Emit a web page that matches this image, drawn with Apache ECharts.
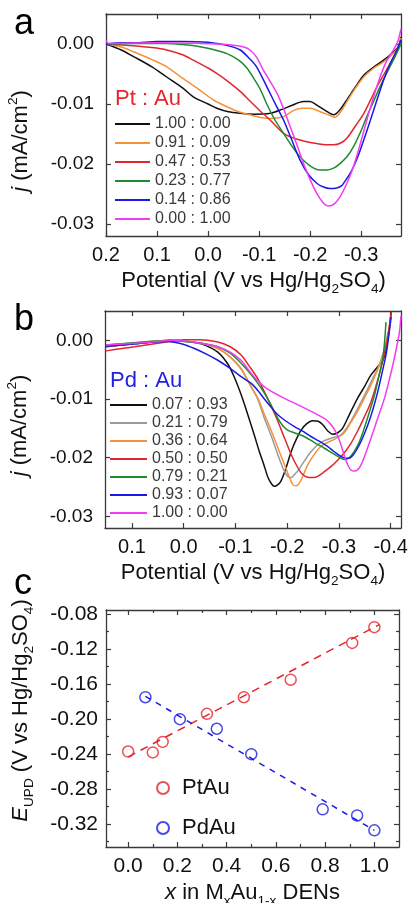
<!DOCTYPE html>
<html>
<head>
<meta charset="utf-8">
<script src="https://cdn.jsdelivr.net/npm/echarts@6/dist/echarts.min.js"></script>
<style>
html, body { margin: 0; padding: 0; background: #fff; }
#main { width: 410px; height: 903px; }
</style>
</head>
<body>
<div id="main"></div>
<script>
// panel a : Pt:Au, potential (V) vs j (mA/cm2)
const a100 = [[0.20,0.0000],[0.17,-0.0010],[0.146,-0.0021],[0.11,-0.0038],[0.081,-0.0055],[0.05,-0.0073],[0.029,-0.0088],[0.00,-0.0100],[-0.017,-0.0107],[-0.04,-0.0113],[-0.063,-0.01155],[-0.09,-0.0117],[-0.122,-0.01155],[-0.145,-0.0109],[-0.165,-0.0102],[-0.187,-0.0096],[-0.20,-0.0096],[-0.213,-0.0102],[-0.23,-0.0111],[-0.246,-0.0118],[-0.258,-0.0110],[-0.272,-0.0093],[-0.29,-0.0070],[-0.305,-0.0052],[-0.325,-0.0038],[-0.344,-0.0027],[-0.36,-0.0016],[-0.373,-0.0004],[-0.378,0.0012]];
const a091 = [[0.20,0.0000],[0.17,-0.0005],[0.146,-0.0013],[0.11,-0.0026],[0.081,-0.0038],[0.05,-0.0057],[0.016,-0.0077],[-0.01,-0.0093],[-0.037,-0.01045],[-0.06,-0.0113],[-0.082,-0.0118],[-0.10,-0.0122],[-0.122,-0.0124],[-0.148,-0.0121],[-0.167,-0.0111],[-0.185,-0.0107],[-0.20,-0.0107],[-0.22,-0.0113],[-0.235,-0.0118],[-0.248,-0.0122],[-0.26,-0.0113],[-0.272,-0.0096],[-0.29,-0.0072],[-0.305,-0.0055],[-0.325,-0.0040],[-0.344,-0.0030],[-0.36,-0.0018],[-0.373,-0.0005],[-0.378,0.0010]];
const a047 = [[0.20,0.0000],[0.146,-0.0003],[0.11,-0.0006],[0.081,-0.0010],[0.05,-0.0018],[0.029,-0.0027],[0.00,-0.0040],[-0.017,-0.0049],[-0.04,-0.0063],[-0.063,-0.0079],[-0.082,-0.0095],[-0.10,-0.0110],[-0.122,-0.0127],[-0.148,-0.0149],[-0.165,-0.0156],[-0.18,-0.0160],[-0.20,-0.0164],[-0.213,-0.0166],[-0.23,-0.0168],[-0.246,-0.0168],[-0.26,-0.0165],[-0.272,-0.0157],[-0.29,-0.0135],[-0.305,-0.0116],[-0.318,-0.0094],[-0.331,-0.0071],[-0.345,-0.0050],[-0.357,-0.0032],[-0.368,-0.0015],[-0.378,0.0002]];
const a023 = [[0.20,0.0000],[0.15,0.0001],[0.081,0.0001],[0.05,-0.0001],[0.016,-0.00045],[-0.01,-0.0009],[-0.037,-0.0016],[-0.06,-0.0027],[-0.076,-0.0040],[-0.09,-0.0058],[-0.102,-0.0075],[-0.115,-0.0100],[-0.13,-0.0125],[-0.148,-0.0149],[-0.165,-0.0171],[-0.18,-0.0188],[-0.195,-0.0200],[-0.213,-0.0209],[-0.233,-0.0210],[-0.248,-0.0206],[-0.259,-0.0199],[-0.272,-0.0188],[-0.285,-0.0171],[-0.298,-0.0148],[-0.311,-0.0121],[-0.324,-0.0096],[-0.337,-0.0071],[-0.35,-0.0048],[-0.363,-0.0027],[-0.378,0.0000]];
const a014 = [[0.20,0.0000],[0.17,0.0002],[0.146,0.0002],[0.10,0.0004],[0.048,0.0004],[0.00,0.0003],[-0.017,0.0001],[-0.04,-0.0003],[-0.063,-0.0010],[-0.082,-0.0025],[-0.095,-0.0038],[-0.115,-0.0071],[-0.13,-0.0097],[-0.148,-0.0127],[-0.165,-0.0162],[-0.18,-0.0193],[-0.197,-0.0218],[-0.213,-0.0232],[-0.225,-0.0238],[-0.239,-0.0241],[-0.252,-0.0240],[-0.262,-0.0236],[-0.268,-0.0229],[-0.28,-0.0213],[-0.291,-0.0193],[-0.305,-0.0160],[-0.318,-0.0127],[-0.331,-0.0093],[-0.344,-0.0060],[-0.357,-0.0032],[-0.37,-0.0010],[-0.378,0.0007]];
const a000 = [[0.20,0.0006],[0.195,0.0001],[0.10,0.0002],[0.016,0.0001],[-0.02,0.0000],[-0.05,-0.0002],[-0.07,-0.0005],[-0.082,-0.0010],[-0.095,-0.0022],[-0.108,-0.0043],[-0.12,-0.0060],[-0.135,-0.0082],[-0.148,-0.0108],[-0.161,-0.0138],[-0.174,-0.0168],[-0.187,-0.0199],[-0.20,-0.0226],[-0.213,-0.0249],[-0.225,-0.0264],[-0.236,-0.0270],[-0.248,-0.0266],[-0.259,-0.0254],[-0.272,-0.0232],[-0.285,-0.0204],[-0.298,-0.0167],[-0.311,-0.0127],[-0.324,-0.0089],[-0.337,-0.0055],[-0.35,-0.0028],[-0.363,-0.0010],[-0.372,0.0005],[-0.378,0.0025]];
const aNames = ['1.00 : 0.00', '0.91 : 0.09', '0.47 : 0.53', '0.23 : 0.77', '0.14 : 0.86', '0.00 : 1.00'];
const aColors = ['#111111', '#f4923a', '#e3262d', '#1f8a2e', '#1a1ae6', '#f23cf2'];

// panel b : Pd:Au
const b007 = [[0.15,-0.0011],[0.095,-0.0006],[0.05,-0.0002],[0.024,0.0000],[0.0,-0.0001],[-0.034,-0.0006],[-0.066,-0.0020],[-0.085,-0.0040],[-0.098,-0.0063],[-0.112,-0.0095],[-0.124,-0.0127],[-0.136,-0.0160],[-0.146,-0.0189],[-0.155,-0.0212],[-0.163,-0.0234],[-0.17,-0.0245],[-0.175,-0.0249],[-0.181,-0.0247],[-0.188,-0.0240],[-0.198,-0.0217],[-0.208,-0.0189],[-0.218,-0.0168],[-0.227,-0.0153],[-0.238,-0.0142],[-0.249,-0.0137],[-0.26,-0.0138],[-0.269,-0.0144],[-0.279,-0.0155],[-0.288,-0.0160],[-0.297,-0.0158],[-0.307,-0.0150],[-0.32,-0.0127],[-0.336,-0.0099],[-0.35,-0.0078],[-0.362,-0.0059],[-0.375,-0.0045],[-0.385,-0.0034],[-0.391,-0.0015],[-0.396,0.0010],[-0.401,0.0048]];
const b021 = [[0.15,-0.0008],[0.095,-0.0004],[0.05,-0.0001],[0.024,0.0000],[0.0,-0.0001],[-0.034,-0.0005],[-0.066,-0.0014],[-0.09,-0.0028],[-0.111,-0.0048],[-0.13,-0.0079],[-0.143,-0.0100],[-0.156,-0.0133],[-0.17,-0.0165],[-0.182,-0.0195],[-0.192,-0.0218],[-0.201,-0.0232],[-0.208,-0.0234],[-0.214,-0.0229],[-0.223,-0.0220],[-0.233,-0.0206],[-0.246,-0.0190],[-0.259,-0.0178],[-0.272,-0.0171],[-0.285,-0.0167],[-0.304,-0.0161],[-0.317,-0.0147],[-0.33,-0.0127],[-0.343,-0.0105],[-0.356,-0.0082],[-0.367,-0.0062],[-0.378,-0.0042],[-0.386,-0.0020],[-0.391,-0.0003],[-0.395,0.0015]];
const b036 = [[0.15,-0.0010],[0.095,-0.0005],[0.05,-0.0001],[0.024,0.0000],[0.0,-0.0001],[-0.04,-0.0006],[-0.066,-0.0014],[-0.085,-0.0025],[-0.11,-0.0048],[-0.13,-0.0078],[-0.143,-0.0098],[-0.155,-0.0124],[-0.165,-0.0145],[-0.175,-0.0167],[-0.185,-0.0190],[-0.195,-0.0212],[-0.204,-0.0233],[-0.211,-0.0246],[-0.217,-0.0248],[-0.224,-0.0243],[-0.232,-0.0228],[-0.24,-0.0212],[-0.252,-0.0195],[-0.265,-0.0181],[-0.278,-0.0174],[-0.291,-0.0169],[-0.31,-0.0158],[-0.323,-0.0140],[-0.336,-0.0121],[-0.349,-0.0099],[-0.362,-0.0076],[-0.372,-0.0056],[-0.381,-0.0037],[-0.388,-0.0018],[-0.394,0.0003],[-0.397,0.0020]];
const b050 = [[0.15,-0.0018],[0.12,-0.0014],[0.095,-0.0011],[0.05,-0.0005],[0.02,-0.0001],[-0.002,0.0001],[-0.03,0.0001],[-0.066,-0.0003],[-0.09,-0.0011],[-0.111,-0.0025],[-0.13,-0.0048],[-0.143,-0.0065],[-0.156,-0.0088],[-0.169,-0.0112],[-0.182,-0.0138],[-0.195,-0.0167],[-0.208,-0.0195],[-0.218,-0.0213],[-0.227,-0.0226],[-0.235,-0.0232],[-0.243,-0.0234],[-0.251,-0.0234],[-0.259,-0.0232],[-0.272,-0.0224],[-0.285,-0.0215],[-0.298,-0.0204],[-0.31,-0.0192],[-0.323,-0.0176],[-0.336,-0.0155],[-0.349,-0.0131],[-0.362,-0.0105],[-0.372,-0.0077],[-0.381,-0.0048],[-0.388,-0.0022],[-0.394,0.0003],[-0.401,0.0048]];
const b079 = [[0.15,-0.0008],[0.095,-0.0004],[0.05,-0.0001],[0.024,0.0000],[0.0,-0.0002],[-0.034,-0.0005],[-0.066,-0.0011],[-0.09,-0.0022],[-0.111,-0.0039],[-0.13,-0.0058],[-0.143,-0.0073],[-0.156,-0.0090],[-0.17,-0.0112],[-0.182,-0.0133],[-0.192,-0.0146],[-0.201,-0.0153],[-0.215,-0.0158],[-0.233,-0.0164],[-0.252,-0.0174],[-0.272,-0.0184],[-0.285,-0.0191],[-0.298,-0.0198],[-0.31,-0.0203],[-0.32,-0.0200],[-0.33,-0.0189],[-0.34,-0.0172],[-0.349,-0.0150],[-0.359,-0.0122],[-0.369,-0.0093],[-0.377,-0.0062],[-0.385,-0.0031],[-0.388,-0.0005],[-0.391,0.0031]];
const b093 = [[0.15,-0.0010],[0.12,-0.0008],[0.095,-0.0006],[0.06,-0.0003],[0.03,-0.0002],[0.0,-0.0007],[-0.021,-0.0014],[-0.045,-0.0024],[-0.066,-0.0034],[-0.09,-0.0048],[-0.111,-0.0062],[-0.13,-0.0073],[-0.143,-0.0085],[-0.156,-0.0100],[-0.168,-0.0113],[-0.182,-0.0127],[-0.198,-0.0138],[-0.214,-0.0147],[-0.23,-0.0155],[-0.246,-0.0164],[-0.262,-0.0172],[-0.278,-0.0181],[-0.291,-0.0190],[-0.304,-0.0198],[-0.313,-0.0201],[-0.32,-0.0201],[-0.328,-0.0195],[-0.336,-0.0184],[-0.346,-0.0166],[-0.356,-0.0144],[-0.366,-0.0117],[-0.375,-0.0088],[-0.383,-0.0057],[-0.391,-0.0025],[-0.396,0.0005],[-0.401,0.0040]];
const b100 = [[0.15,-0.0008],[0.095,-0.0005],[0.05,-0.0002],[0.02,0.0000],[0.0,-0.0001],[-0.034,-0.0005],[-0.066,-0.0011],[-0.09,-0.0020],[-0.111,-0.0034],[-0.125,-0.0050],[-0.14,-0.0066],[-0.16,-0.0082],[-0.195,-0.0099],[-0.23,-0.0114],[-0.259,-0.0127],[-0.275,-0.0135],[-0.285,-0.0144],[-0.295,-0.0158],[-0.304,-0.0178],[-0.311,-0.0198],[-0.317,-0.0212],[-0.323,-0.0221],[-0.33,-0.0223],[-0.337,-0.0220],[-0.343,-0.0212],[-0.352,-0.0192],[-0.362,-0.0167],[-0.375,-0.0133],[-0.388,-0.0099],[-0.398,-0.0065],[-0.407,-0.0031],[-0.413,-0.0005],[-0.417,0.0014],[-0.42,0.0042]];
const bNames = ['0.07 : 0.93', '0.21 : 0.79', '0.36 : 0.64', '0.50 : 0.50', '0.79 : 0.21', '0.93 : 0.07', '1.00 : 0.00'];
const bColors = ['#111111', '#9a9a9a', '#f4923a', '#e3262d', '#1f8a2e', '#1a1ae6', '#f23cf2'];

// panel c : E_UPD vs x
const ptX = [0.00, 0.10, 0.14, 0.32, 0.47, 0.66, 0.91, 1.00];
const ptE = [-0.237, -0.238, -0.226, -0.194, -0.175, -0.155, -0.113, -0.095];
const pdX = [0.07, 0.21, 0.36, 0.50, 0.79, 0.93, 1.00];
const pdE = [-0.175, -0.200, -0.211, -0.240, -0.303, -0.310, -0.327];
const ptFitX = [0.0, 1.02];
const ptFitE = [-0.243, -0.092];
const pdFitX = [0.07, 1.0];
const pdFitE = [-0.174, -0.327];

const potTicksA = [0.2, 0.1, 0.0, -0.1, -0.2, -0.3];
const potTicksB = [0.1, 0.0, -0.1, -0.2, -0.3, -0.4];
const jTicks = [0.00, -0.01, -0.02, -0.03];
const xTicksC = [0.0, 0.2, 0.4, 0.6, 0.8, 1.0];
const xMinorC = [0.1, 0.3, 0.5, 0.7, 0.9];
const eTicksC = [-0.08, -0.12, -0.16, -0.20, -0.24, -0.28, -0.32];
const eMinorC = [-0.10, -0.14, -0.18, -0.22, -0.26, -0.30, -0.34];

const FONT = '"Liberation Sans", Arial, Helvetica, sans-serif';
const FRAME = '#3a3a3a';
const red = '#e3262d';
const blue = '#1a1ae6';

let xAxes = [];
let yAxes = [];

function fmt(d){
    return v => Math.abs(v) < 1e-9 ? (0).toFixed(d) : v.toFixed(d);
}

function tick(vals, len){
    return {show: true, inside: true, length: len, customValues: vals, lineStyle: {color: FRAME, width: 1.2}};
}

function nameRich(size){
    return {
        fontSize: size, fontFamily: FONT, color: '#111', lineHeight: size + 8,
        rich: {
            sub: {fontSize: size * 0.62, fontFamily: FONT, color: '#111', verticalAlign: 'bottom', lineHeight: size * 0.7},
            sup: {fontSize: size * 0.62, fontFamily: FONT, color: '#111', verticalAlign: 'top', lineHeight: size * 0.7},
            i: {fontSize: size, fontFamily: FONT, color: '#111', fontStyle: 'italic', lineHeight: size + 8}
        }
    };
}

// four axes round a grid, ticks pointing inward, labels only bottom/left
function frame(g, xs, ys){
    let base = {gridIndex: g, type: 'value', splitLine: {show: false},
        axisLine: {onZero: false, lineStyle: {color: FRAME, width: 1.3}}};
    let hidden = {gridIndex: g, type: 'value', splitLine: {show: false},
        axisLine: {show: false, onZero: false}, axisLabel: {show: false}};
    let xi = xAxes.length;
    let yi = yAxes.length;
    let xr = {min: xs.min, max: xs.max, inverse: !!xs.inverse};
    let yr = {min: ys.min, max: ys.max};
    xAxes.push(Object.assign({}, base, xr, {
        position: 'bottom',
        axisTick: tick(xs.ticks, 5),
        axisLabel: {customValues: xs.ticks, formatter: fmt(xs.digits), fontSize: xs.font,
            fontFamily: FONT, color: '#111', margin: xs.margin},
        name: xs.name, nameLocation: 'middle', nameGap: xs.nameGap, nameTextStyle: nameRich(xs.nameSize)
    }));
    xAxes.push(Object.assign({}, base, xr, {position: 'top', axisTick: tick(xs.ticks, 5), axisLabel: {show: false}}));
    yAxes.push(Object.assign({}, base, yr, {
        position: 'left',
        axisTick: tick(ys.ticks, 5),
        axisLabel: {customValues: ys.ticks, formatter: fmt(ys.digits), fontSize: ys.font,
            fontFamily: FONT, color: '#111', margin: ys.margin},
        name: ys.name, nameLocation: 'middle', nameGap: ys.nameGap,
        nameTextStyle: Object.assign(nameRich(ys.nameSize), {padding: ys.namePad})
    }));
    yAxes.push(Object.assign({}, base, yr, {position: 'right', axisTick: tick(ys.ticks, 5), axisLabel: {show: false}}));
    if (xs.minor){
        xAxes.push(Object.assign({}, hidden, xr, {position: 'bottom', axisTick: tick(xs.minor, 3)}));
        xAxes.push(Object.assign({}, hidden, xr, {position: 'top', axisTick: tick(xs.minor, 3)}));
    }
    if (ys.minor){
        yAxes.push(Object.assign({}, hidden, yr, {position: 'left', axisTick: tick(ys.minor, 3)}));
        yAxes.push(Object.assign({}, hidden, yr, {position: 'right', axisTick: tick(ys.minor, 3)}));
    }
    return [xi, yi];
}

const potName = 'Potential (V vs Hg/Hg{sub|2}SO{sub|4})';
const jName = '{i|j} (mA/cm{sup|2})';

let [axA, ayA] = frame(0,
    {min: -0.378, max: 0.2, inverse: true, ticks: potTicksA, digits: 1, font: 20, margin: 9,
     name: potName, nameGap: 27, nameSize: 22},
    {min: -0.032, max: 0.005, ticks: jTicks, digits: 2, font: 19, margin: 12,
     name: jName, nameGap: 70, nameSize: 22, namePad: [0, 32, 0, 0]});
let [axB, ayB] = frame(1,
    {min: -0.42, max: 0.152, inverse: true, ticks: potTicksB, digits: 1, font: 20, margin: 9,
     name: potName, nameGap: 27, nameSize: 22},
    {min: -0.032, max: 0.005, ticks: jTicks, digits: 2, font: 19, margin: 12,
     name: jName, nameGap: 70, nameSize: 22, namePad: [0, 12, 0, 0]});
let [axC, ayC] = frame(2,
    {min: -0.09, max: 1.1, ticks: xTicksC, minor: xMinorC, digits: 1, font: 21, margin: 9,
     name: '{i|x} in M{sub|x}Au{sub|1-x} DENs', nameGap: 30, nameSize: 22},
    {min: -0.346, max: -0.0754, ticks: eTicksC, minor: eMinorC, digits: 2, font: 21, margin: 8,
     name: '{i|E}{sub|UPD} (V vs Hg/Hg{sub|2}SO{sub|4})', nameGap: 70, nameSize: 22, namePad: [0, 0, 0, 36]});

function curve(name, data, color, xi, yi){
    return {type: 'line', name: name, data: data, xAxisIndex: xi, yAxisIndex: yi,
        symbol: 'none', showSymbol: false, smooth: 0.3, silent: true,
        lineStyle: {color: color, width: 1.5}, itemStyle: {color: color}};
}

let series = [];
[a100, a091, a047, a023, a014, a000].forEach((d, i) => {
    series.push(curve('a|' + aNames[i], d, aColors[i], axA, ayA));
});
[b007, b021, b036, b050, b079, b093, b100].forEach((d, i) => {
    series.push(curve('b|' + bNames[i], d, bColors[i], axB, ayB));
});

function zip(xs, ys){
    return xs.map((x, i) => [x, ys[i]]);
}

series.push({type: 'line', name: 'ptfit', data: zip(ptFitX, ptFitE), xAxisIndex: axC, yAxisIndex: ayC,
    symbol: 'none', silent: true, lineStyle: {color: red, width: 1.5, type: [8, 6]}});
series.push({type: 'line', name: 'pdfit', data: zip(pdFitX, pdFitE), xAxisIndex: axC, yAxisIndex: ayC,
    symbol: 'none', silent: true, lineStyle: {color: blue, width: 1.5, type: [6, 6]}});
series.push({type: 'scatter', name: 'PtAu', data: zip(ptX, ptE), xAxisIndex: axC, yAxisIndex: ayC,
    symbol: 'circle', symbolSize: 11, silent: true,
    itemStyle: {color: 'rgba(255,255,255,0)', borderColor: red, borderWidth: 1.5}});
series.push({type: 'scatter', name: 'PdAu', data: zip(pdX, pdE), xAxisIndex: axC, yAxisIndex: ayC,
    symbol: 'circle', symbolSize: 11, silent: true,
    itemStyle: {color: 'rgba(255,255,255,0)', borderColor: blue, borderWidth: 1.5}});

const letterStyle = {fontSize: 36, fontWeight: 'normal', fontFamily: FONT, color: '#000'};
const legendText = {fontSize: 16, fontFamily: FONT, color: '#3a3a3a', lineHeight: 14};

let option = {
    animation: false,
    backgroundColor: '#fff',
    grid: [
        {left: 106, top: 14, width: 295, height: 222, outerBoundsMode: 'none', containLabel: false},
        {left: 105, top: 311, width: 296, height: 217, outerBoundsMode: 'none', containLabel: false},
        {left: 106, top: 610, width: 293, height: 237, outerBoundsMode: 'none', containLabel: false}
    ],
    title: [
        {text: 'a', left: 14, top: 6, padding: 0, textStyle: letterStyle},
        {text: 'b', left: 14, top: 302, padding: 0, textStyle: letterStyle},
        {text: 'c', left: 14, top: 566, padding: 0, textStyle: letterStyle},
        {text: 'Pt : Au', left: 115, top: 88, padding: 0,
         textStyle: {fontSize: 22, fontWeight: 'normal', fontFamily: FONT, color: red}},
        {text: 'Pd : Au', left: 110, top: 370, padding: 0,
         textStyle: {fontSize: 22, fontWeight: 'normal', fontFamily: FONT, color: '#2222dd'}}
    ],
    legend: [
        {data: aNames.map(n => 'a|' + n), orient: 'vertical', left: 115, top: 116, padding: 0,
         icon: 'rect', itemWidth: 35, itemHeight: 2, itemGap: 3, selectedMode: false,
         formatter: n => n.slice(2), textStyle: legendText},
        {data: bNames.map(n => 'b|' + n), orient: 'vertical', left: 110, top: 397, padding: 0,
         icon: 'rect', itemWidth: 37, itemHeight: 2, itemGap: 2, selectedMode: false,
         formatter: n => n.slice(2), textStyle: legendText},
        {data: ['PtAu', 'PdAu'], orient: 'vertical', left: 156, top: 777, padding: 0,
         itemWidth: 12, itemHeight: 12, itemGap: 18, selectedMode: false,
         textStyle: {fontSize: 22, fontFamily: FONT, color: '#111', padding: [0, 0, 0, 8]}}
    ],
    xAxis: xAxes,
    yAxis: yAxes,
    series: series
};

let chart = echarts.init(document.getElementById('main'), null, {renderer: 'canvas'});
chart.setOption(option);
</script>
</body>
</html>
